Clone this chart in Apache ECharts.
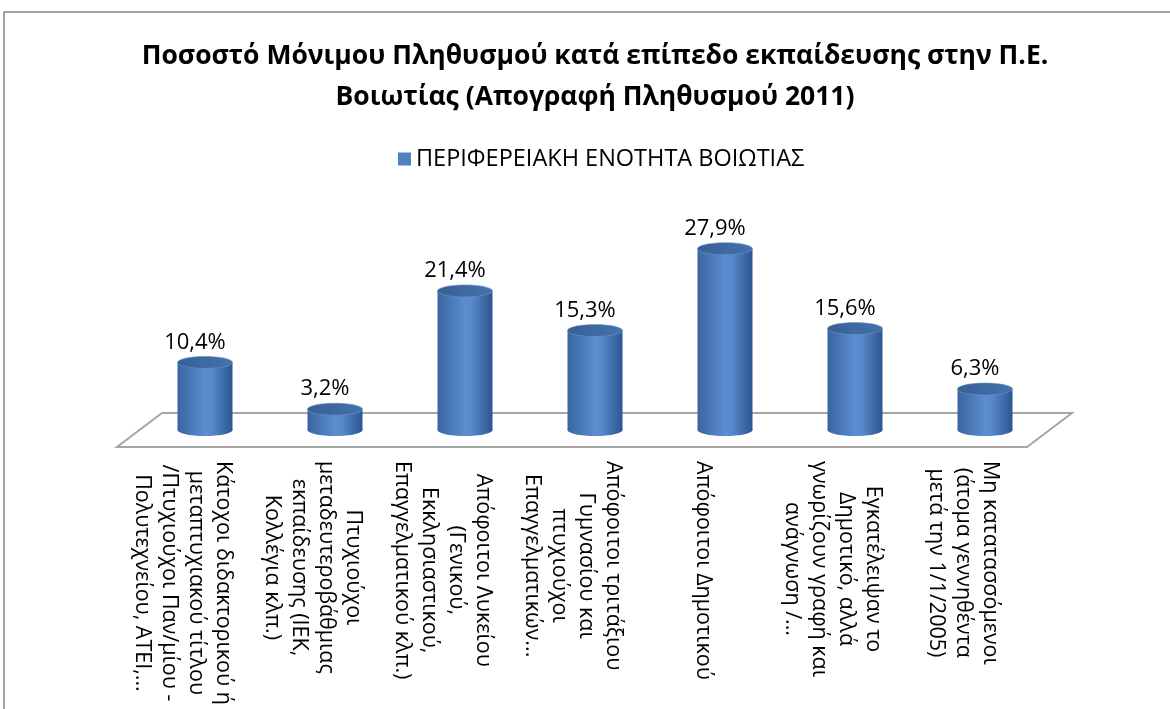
<!DOCTYPE html>
<html>
<head>
<meta charset="utf-8">
<script src="https://cdn.jsdelivr.net/npm/echarts@6/dist/echarts.min.js"></script>
<style>
  html, body { margin: 0; background: #fff; }
  #chart { width: 1170px; height: 709px; }
</style>
</head>
<body>
<div id="chart"></div>
<script>
// data
let titleText = "Ποσοστό Μόνιμου Πληθυσμού κατά επίπεδο εκπαίδευσης στην Π.Ε.\nΒοιωτίας (Απογραφή Πληθυσμού 2011)";
let seriesName = "ΠΕΡΙΦΕΡΕΙΑΚΗ ΕΝΟΤΗΤΑ ΒΟΙΩΤΙΑΣ";
let categories = [
  "Κάτοχοι διδακτορικού ή\nμεταπτυχιακού τίτλου\n/Πτυχιούχοι Παν/μίου -\nΠολυτεχνείου, ΑΤΕΙ,...",
  "Πτυχιούχοι\nμεταδευτεροβάθμιας\nεκπαίδευσης (ΙΕΚ,\nΚολλέγια κλπ.)",
  "Απόφοιτοι Λυκείου\n(Γενικού,\nΕκκλησιαστικού,\nΕπαγγελματικού κλπ.)",
  "Απόφοιτοι τριτάξιου\nΓυμνασίου και\nπτυχιούχοι\nΕπαγγελματικών...",
  "Απόφοιτοι Δημοτικού",
  "Εγκατέλειψαν το\nΔημοτικό, αλλά\nγνωρίζουν γραφή και\nανάγνωση /...",
  "Μη κατατασσόμενοι\n(άτομα γεννηθέντα\nμετά την 1/1/2005)"
];
let values = [10.4, 3.2, 21.4, 15.3, 27.9, 15.6, 6.3];

let font = '"Open Sans", "Noto Sans", sans-serif';
let chart = echarts.init(document.getElementById("chart"));

function pct(v) {
  return v.toFixed(1).replace(".", ",") + "%";
}

// cylinder shaped bars
function renderCylinder(params, api) {
  let base = api.coord([api.value(0), 0]);
  let top = api.coord([api.value(0), api.value(1)]);
  let w = 55, ry = 6, cx = base[0];
  let body = new echarts.graphic.LinearGradient(0, 0, 1, 0, [
    { offset: 0, color: "#3a659f" },
    { offset: 0.5, color: "#5b8dd0" },
    { offset: 0.62, color: "#5889cb" },
    { offset: 1, color: "#2c5690" }
  ]);
  let cap = new echarts.graphic.LinearGradient(0, 0, 1, 0, [
    { offset: 0, color: "#365f95" },
    { offset: 1, color: "#4572ad" }
  ]);
  return {
    type: "group",
    children: [
      { type: "ellipse", shape: { cx: cx, cy: base[1], rx: w / 2, ry: ry }, style: { fill: body } },
      { type: "rect", shape: { x: cx - w / 2, y: top[1], width: w, height: base[1] - top[1] }, style: { fill: body } },
      { type: "ellipse", shape: { cx: cx, cy: top[1], rx: w / 2, ry: ry }, style: { fill: cap, stroke: "#6d95c9", lineWidth: 0.6 } },
      {
        type: "text",
        x: cx - 10,
        y: top[1] - ry - 3,
        style: {
          text: pct(api.value(1)),
          fill: "#000",
          fontSize: 22,
          fontFamily: font,
          align: "center",
          verticalAlign: "bottom"
        }
      }
    ]
  };
}

// 3D floor under the bars
function renderFloor(params, api) {
  let band = api.size([1, 0])[0];
  let p0 = api.coord([0, 0]);
  let p1 = api.coord([categories.length - 1, 0]);
  let l = p0[0] - band / 2, r = p1[0] + band / 2, y = p0[1];
  return {
    type: "polygon",
    shape: {
      points: [[l + 22, y - 17], [r + 22, y - 17], [r - 23, y + 17], [l - 23, y + 17]]
    },
    style: { fill: "#fff", stroke: "#a6a6a6", lineWidth: 2 }
  };
}

let option = {
  animation: false,
  title: {
    text: titleText,
    left: 590,
    textAlign: "center",
    top: 31,
    textStyle: { fontSize: 26.5, fontWeight: "bold", fontFamily: font, color: "#000", lineHeight: 41 }
  },
  legend: {
    data: [{ name: seriesName, icon: "rect" }],
    top: 142,
    left: 393,
    itemWidth: 13,
    itemHeight: 13,
    itemGap: 5,
    textStyle: { fontSize: 23.5, fontFamily: font, color: "#000" }
  },
  graphic: [
    {
      type: "rect",
      shape: { x: 4, y: 12, width: 1200, height: 720 },
      style: { fill: "transparent", stroke: "#878787", lineWidth: 1.5 },
      silent: true
    }
  ],
  grid: [
    { left: 140, right: 120, top: 235, bottom: 279 },
    { left: 118, right: 142, top: 235, bottom: 279 }
  ],
  xAxis: [
    {
      type: "category",
      gridIndex: 0,
      data: categories,
      axisLine: { show: false },
      axisTick: { show: false },
      axisLabel: { show: false }
    },
    {
      type: "category",
      gridIndex: 1,
      data: categories,
      axisLine: { show: false },
      axisTick: { show: false },
      axisLabel: {
        interval: 0,
        rotate: -90,
        margin: 31,
        formatter: function (v) {
          return v.split("\n").map(function (s) { return "{c|" + s + "}"; }).join("\n");
        },
        rich: {
          c: { align: "center", fontSize: 21.5, lineHeight: 27, fontFamily: font, color: "#000" }
        }
      }
    }
  ],
  yAxis: [
    { type: "value", gridIndex: 0, min: 0, max: 30, show: false },
    { type: "value", gridIndex: 1, min: 0, max: 30, show: false }
  ],
  series: [
    {
      name: "floor",
      type: "custom",
      xAxisIndex: 0,
      yAxisIndex: 0,
      clip: false,
      z: 1,
      silent: true,
      renderItem: renderFloor,
      data: [[0, 0]]
    },
    {
      name: seriesName,
      type: "custom",
      xAxisIndex: 0,
      yAxisIndex: 0,
      clip: false,
      z: 2,
      itemStyle: { color: "#4F81BD" },
      encode: { x: 0, y: 1 },
      renderItem: renderCylinder,
      data: values.map(function (v, i) { return [i, v]; })
    }
  ]
};

chart.setOption(option);
</script>
</body>
</html>
